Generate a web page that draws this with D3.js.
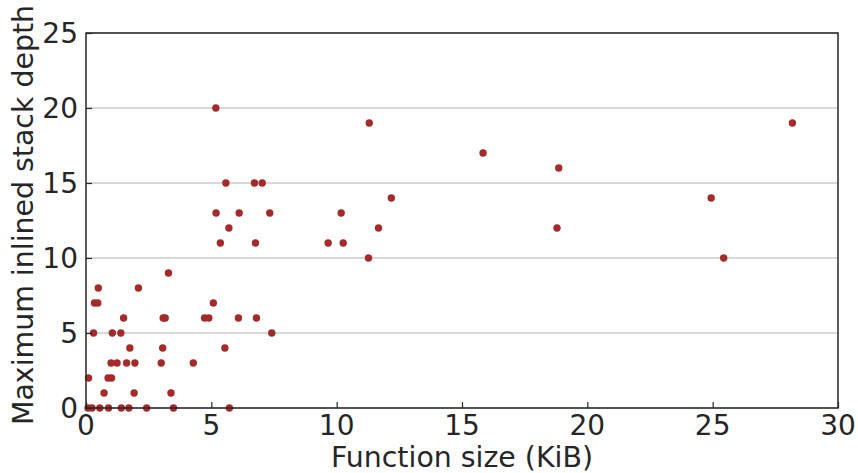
<!DOCTYPE html>
<html>
<head>
<meta charset="utf-8">
<script src="https://cdn.jsdelivr.net/npm/d3@7"></script>
<style>
  body { margin: 0; background: #fff; }
  text { font-family: "DejaVu Sans", sans-serif; fill: #262626; }
</style>
</head>
<body>
<svg id="chart" width="858" height="473"></svg>
<script>
// function size (KiB) and max inlined stack depth
const sizeKiB = [
  0.08, 0.24, 0.55, 0.9, 1.41, 1.71, 2.42, 3.49, 5.72,
  0.72, 1.92, 3.39,
  0.1, 0.88, 1.02,
  1.0, 1.24, 1.62, 1.95, 3.0, 4.28,
  1.75, 3.06, 5.54,
  0.3, 1.05, 1.39, 7.41,
  1.5, 3.08, 3.16, 4.73, 4.9, 6.08, 6.8,
  0.34, 0.47, 5.08,
  0.49, 2.09,
  3.29,
  11.27, 25.44,
  5.36, 6.76, 9.66, 10.26,
  5.7, 11.67, 18.79,
  5.19, 6.11, 7.33, 10.18,
  12.18, 24.94,
  5.58, 6.72, 7.03,
  18.86,
  15.84,
  11.3, 28.18,
  5.18
];
const stackDepth = [
  0, 0, 0, 0, 0, 0, 0, 0, 0,
  1, 1, 1,
  2, 2, 2,
  3, 3, 3, 3, 3, 3,
  4, 4, 4,
  5, 5, 5, 5,
  6, 6, 6, 6, 6, 6, 6,
  7, 7, 7,
  8, 8,
  9,
  10, 10,
  11, 11, 11, 11,
  12, 12, 12,
  13, 13, 13, 13,
  14, 14,
  15, 15, 15,
  16,
  17,
  19, 19,
  20
];
const xTicks = [0, 5, 10, 15, 20, 25, 30];
const yTicks = [0, 5, 10, 15, 20, 25];

const svg = d3.select("#chart");
const plotL = 86, plotR = 838, plotT = 33, plotB = 408;

const x = d3.scaleLinear().domain([0, 30]).range([plotL, plotR]);
const y = d3.scaleLinear().domain([0, 25]).range([plotB, plotT]);

// horizontal grid
svg.append("g")
  .selectAll("line")
  .data(yTicks)
  .join("line")
  .attr("x1", plotL).attr("x2", plotR)
  .attr("y1", d => y(d)).attr("y2", d => y(d))
  .attr("stroke", "#cbcbcb")
  .attr("stroke-width", 1.5);

// points
const pts = sizeKiB.map((v, i) => ({ x: v, y: stackDepth[i] }));
svg.append("g")
  .selectAll("circle")
  .data(pts)
  .join("circle")
  .attr("cx", d => x(d.x))
  .attr("cy", d => y(d.y))
  .attr("r", 3.7)
  .attr("fill", "#a52a2a");

// axes, ticks inward
const xAxis = svg.append("g")
  .attr("transform", `translate(0,${plotB})`)
  .call(d3.axisTop(x).tickValues(xTicks).tickSize(6).tickFormat(""));
const yAxis = svg.append("g")
  .attr("transform", `translate(${plotL},0)`)
  .call(d3.axisRight(y).tickValues(yTicks).tickSize(6).tickFormat(""));
[xAxis, yAxis].forEach(a => {
  a.select(".domain").remove();
  a.selectAll("line").attr("stroke", "#262626").attr("stroke-width", 1.2);
});

// frame
svg.append("rect")
  .attr("x", plotL).attr("y", plotT)
  .attr("width", plotR - plotL).attr("height", plotB - plotT)
  .attr("fill", "none")
  .attr("stroke", "#262626")
  .attr("stroke-width", 1.5);

// tick labels
svg.append("g")
  .selectAll("text")
  .data(xTicks)
  .join("text")
  .attr("x", d => x(d))
  .attr("y", 435)
  .attr("text-anchor", "middle")
  .attr("font-size", 28)
  .text(d => d);

svg.append("g")
  .selectAll("text")
  .data(yTicks)
  .join("text")
  .attr("x", 78)
  .attr("y", d => y(d))
  .attr("dy", "0.36em")
  .attr("text-anchor", "end")
  .attr("font-size", 28)
  .text(d => d);

// axis titles
svg.append("text")
  .attr("x", (plotL + plotR) / 2)
  .attr("y", 467)
  .attr("text-anchor", "middle")
  .attr("font-size", 28.4)
  .text("Function size (KiB)");

svg.append("text")
  .attr("transform", "translate(33,215) rotate(-90)")
  .attr("text-anchor", "middle")
  .attr("font-size", 28.4)
  .text("Maximum inlined stack depth");
</script>
</body>
</html>
